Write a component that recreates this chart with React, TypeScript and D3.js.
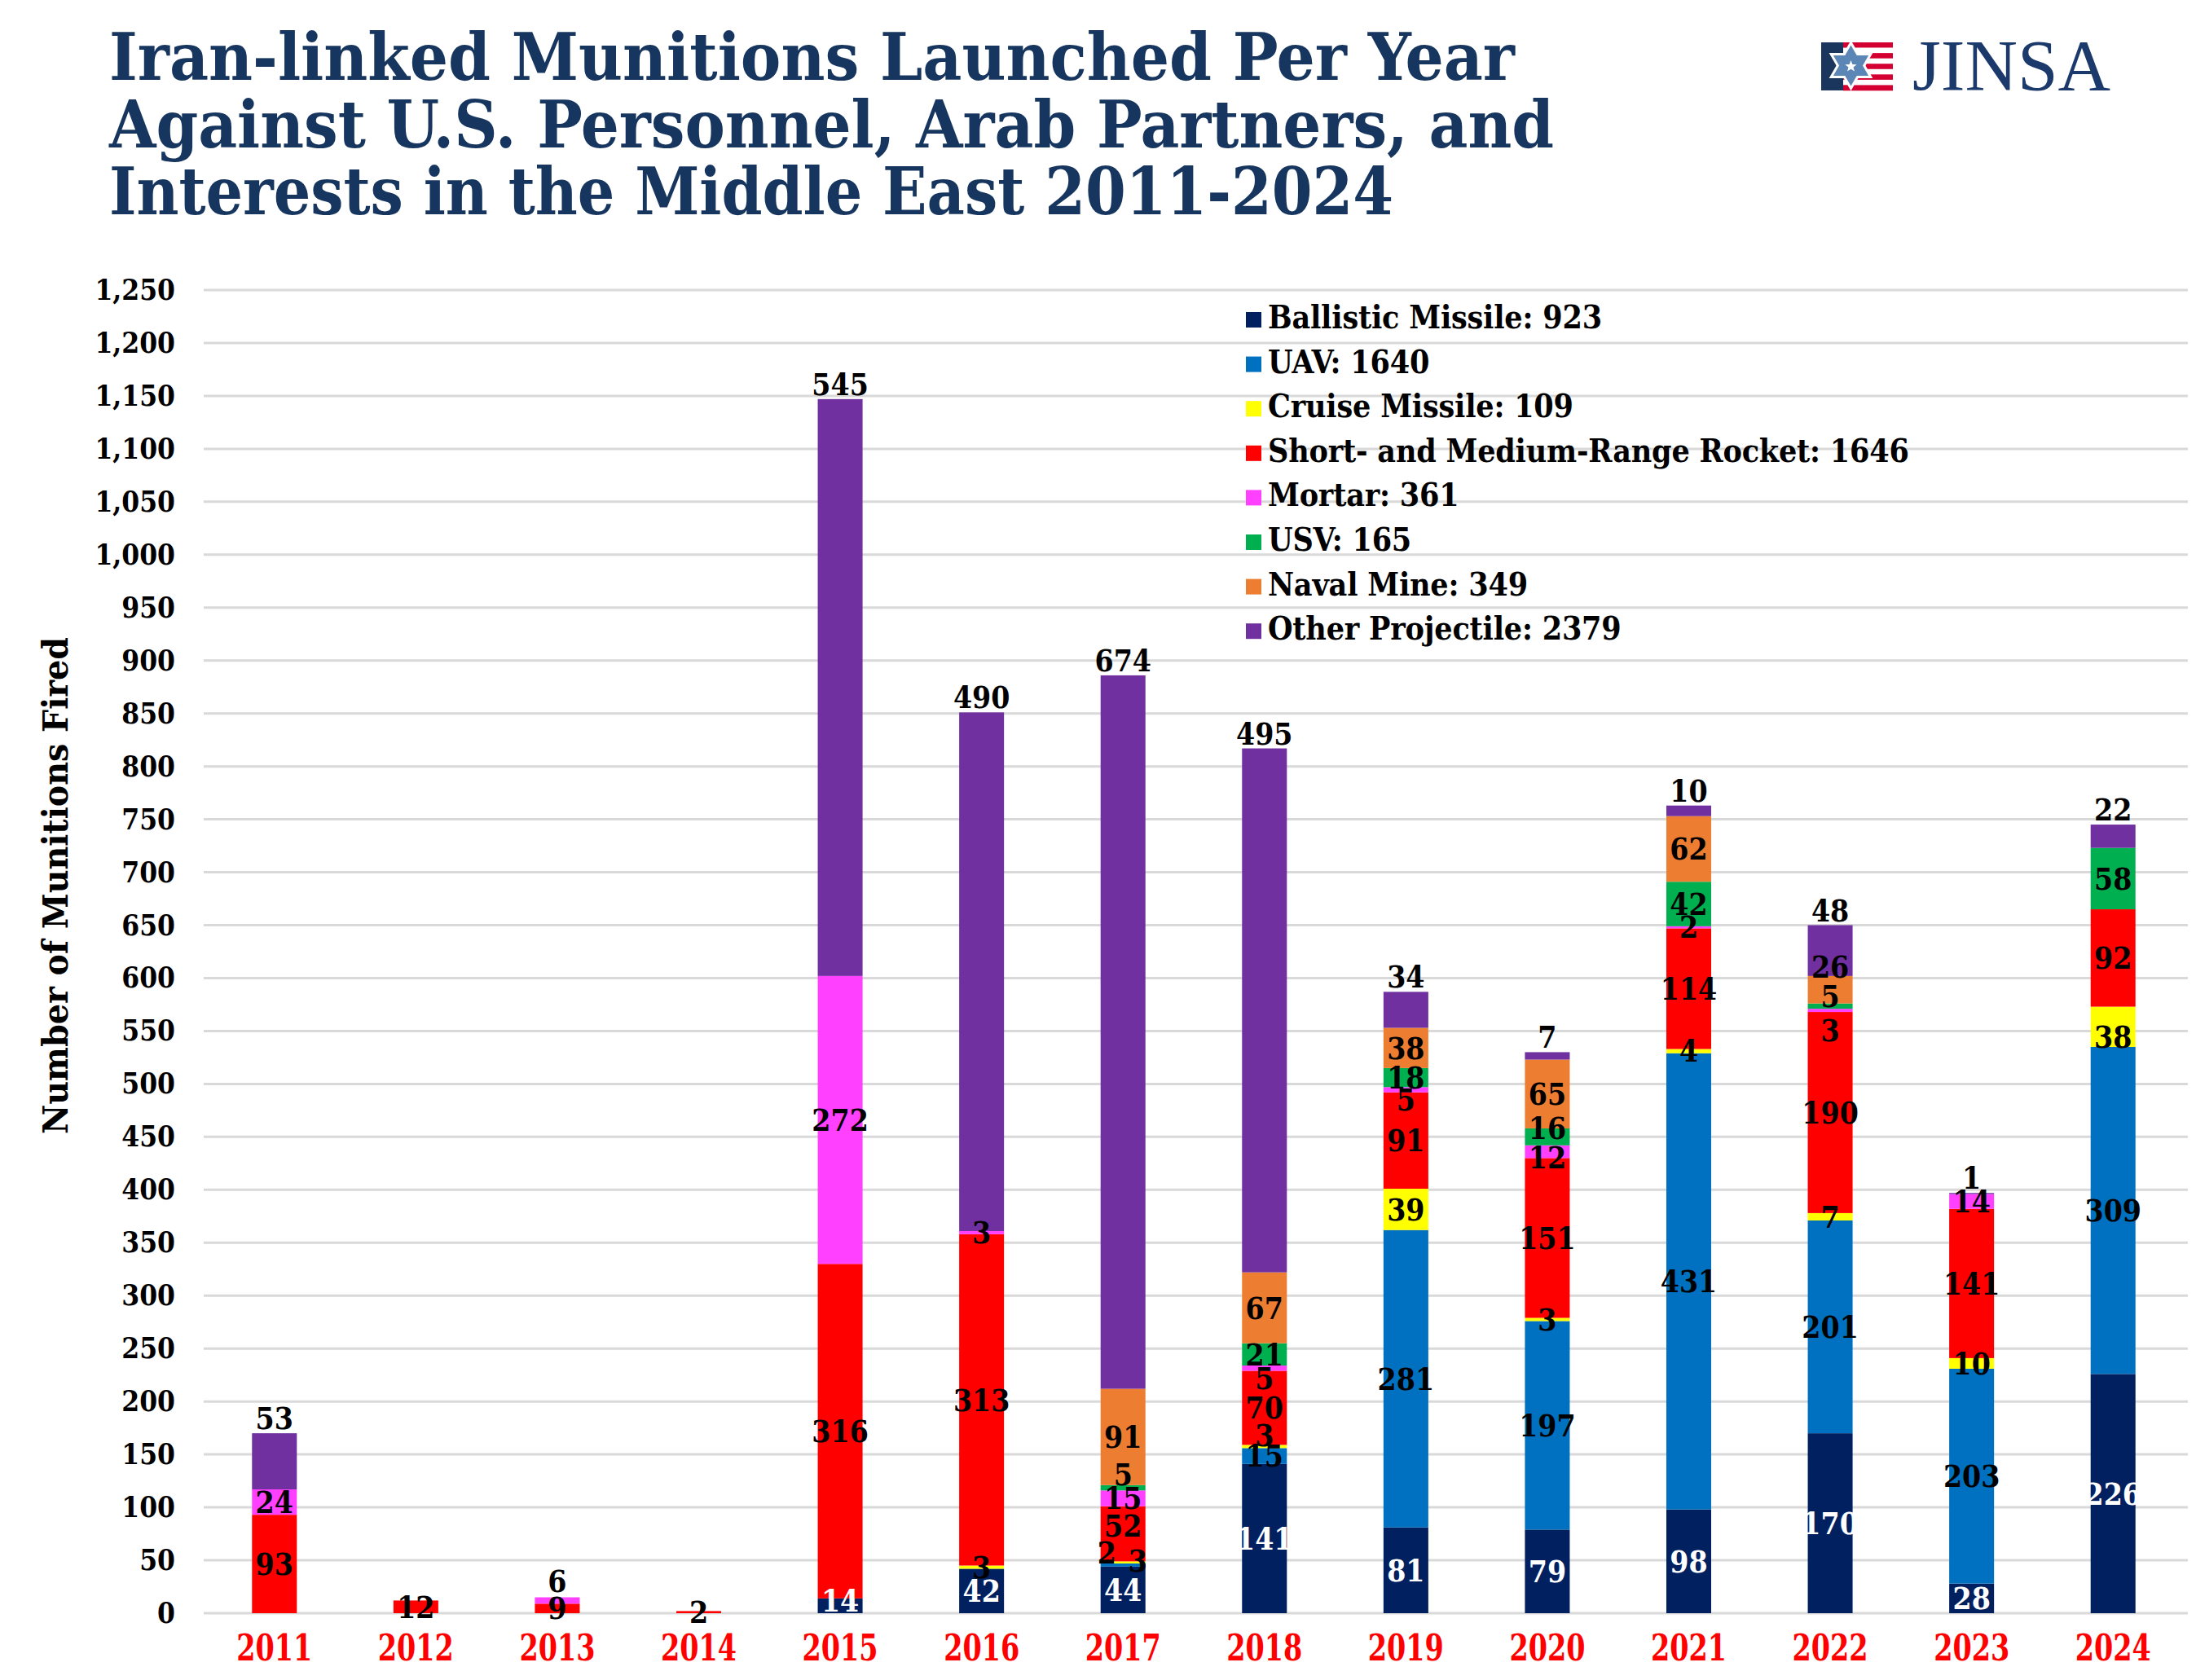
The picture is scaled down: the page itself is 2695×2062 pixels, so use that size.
import React from 'react';
import * as d3 from 'd3';

const years = ['2011','2012','2013','2014','2015','2016','2017','2018','2019','2020','2021','2022','2023','2024'];
const ballistic = [0,0,0,0,14,42,44,141,81,79,98,170,28,226];
const uav = [0,0,0,0,0,0,3,15,281,197,431,201,203,309];
const cruise = [0,0,0,0,0,3,2,3,39,3,4,7,10,38];
const rocket = [93,12,9,2,316,313,52,70,91,151,114,190,141,92];
const mortar = [24,0,6,0,272,3,15,5,5,12,2,3,14,0];
const usv = [0,0,0,0,0,0,5,21,18,16,42,5,0,58];
const mine = [0,0,0,0,0,0,91,67,38,65,62,26,0,0];
const other = [53,0,0,0,545,490,674,495,34,7,10,48,1,22];

const seriesKeys = ['ballistic','uav','cruise','rocket','mortar','usv','mine','other'];
const seriesLabels = ['Ballistic Missile','UAV','Cruise Missile','Short- and Medium-Range Rocket','Mortar','USV','Naval Mine','Other Projectile'];
const seriesColors = ['#002060','#0070C0','#FFFF00','#FF0000','#FF40FF','#00B050','#ED7D31','#7030A0'];
const seriesValues = [ballistic, uav, cruise, rocket, mortar, usv, mine, other];

const titleLines = [
  'Iran-linked Munitions Launched Per Year',
  'Against U.S. Personnel, Arab Partners, and',
  'Interests in the Middle East 2011-2024',
];
const yAxisTitle = 'Number of Munitions Fired';
const yTicks = d3.range(0, 1251, 50);

// label nudges (layout only)
const labelNudge: Record<string, { dx?: number; dy?: number }> = {
  '2013|mortar': { dy: -24 },
  '2015|ballistic': { dy: -6 },
  '2017|cruise': { dx: -20, dy: -12 },
  '2017|uav': { dx: 18, dy: -5 },
  '2017|rocket': { dy: -10 },
  '2017|usv': { dy: -16 },
  '2018|cruise': { dy: -14 },
  '2018|mortar': { dy: 12 },
  '2019|mortar': { dy: 12 },
  '2020|mortar': { dy: 7 },
  '2020|usv': { dy: -11 },
  '2022|mortar': { dy: 25 },
  '2022|usv': { dy: -12 },
  '2022|mine': { dy: -28 },
  '2024|cruise': { dy: 12 },
};

const W = 2695, H = 2062;
const FONT = "'DejaVu Serif Condensed', 'DejaVu Serif', serif";

export default function App() {
  const rows = years.map((y, i) => {
    const r: any = { year: y };
    seriesKeys.forEach((k, j) => (r[k] = seriesValues[j][i]));
    return r;
  });
  const stacked = d3.stack().keys(seriesKeys)(rows);

  const x = d3.scaleBand().domain(years).range([250, 2680]).paddingInner(0.683).paddingOuter(0.3415);
  const y = d3.scaleLinear().domain([0, 1250]).range([1980, 356]);

  const labelFs = 37;

  // hexagram
  const hx = 2271.5, hy = 80.5, hr = 25;
  const tri = (r: number, rot: number) =>
    d3.range(3).map((k) => {
      const a = rot + (k * 2 * Math.PI) / 3;
      return [hx + r * Math.sin(a), hy - r * Math.cos(a)];
    });
  const triPath = (r: number, rot: number) => 'M' + tri(r, rot).map((p) => p.join(',')).join('L') + 'Z';
  const star5 = d3.range(10).map((k) => {
    const rr = k % 2 === 0 ? 7.5 : 3.2;
    const a = (k * Math.PI) / 5;
    return [hx + rr * Math.sin(a), hy + 1 - rr * Math.cos(a)];
  });
  const stripeH = 59 / 9;

  return (
    <svg width={W} height={H} style={{ position: 'absolute', left: 0, top: 0, background: '#fff' }} fontFamily={FONT}>
      <rect x={0} y={0} width={W} height={H} fill="#fff" />
      {/* Title */}
      {titleLines.map((t, i) => (
        <text key={i} x={134} y={98 + i * 82.5} fontSize={80} fontWeight="bold" fill="#17365F"
          style={{ fontStretch: 'condensed' }}
          textLength={[1725, 1773, 1576][i]} lengthAdjust="spacingAndGlyphs">{t}</text>
      ))}
      {/* Logo */}
      <g>
        <rect x={2235} y={52} width={33} height={59} fill="#1B365D" />
        {d3.range(9).map((k) => (
          <rect key={k} x={2262} y={52 + k * stripeH} width={61} height={stripeH + 0.3} fill={k % 2 === 0 ? '#D50032' : '#fff'} />
        ))}
        <path d={triPath(hr + 6, 0)} fill="#fff" />
        <path d={triPath(hr + 6, Math.PI)} fill="#fff" />
        <path d={triPath(hr, 0)} fill="#5B86B5" />
        <path d={triPath(hr, Math.PI)} fill="#5B86B5" />
        <polygon points={star5.map((p) => p.join(',')).join(' ')} fill="#fff" />
        <text x={2347} y={110} fontSize={88} fontFamily="'Liberation Serif', serif" fill="#1B3A6B"
          textLength={243} lengthAdjust="spacingAndGlyphs">JINSA</text>
      </g>
      {/* Gridlines */}
      {yTicks.map((t) => (
        <line key={t} x1={250} x2={2685} y1={y(t)} y2={y(t)} stroke="#D9D9D9" strokeWidth={3} />
      ))}
      {/* Y tick labels */}
      {yTicks.map((t) => (
        <text key={'yl' + t} x={215} y={y(t) + 12} fontSize={35} fontWeight="bold" textAnchor="end" fill="#000"
          style={{ fontStretch: 'condensed' }}>{d3.format(',')(t)}</text>
      ))}
      {/* Y axis title */}
      <text transform={`translate(83,1087) rotate(-90)`} fontSize={42} fontWeight="bold" textAnchor="middle" fill="#000"
        style={{ fontStretch: 'condensed' }} textLength={610} lengthAdjust="spacingAndGlyphs">{yAxisTitle}</text>
      {/* Bars */}
      {stacked.map((s, j) => (
        <g key={s.key} fill={seriesColors[j]}>
          {s.map((d, i) => {
            const h = y(d[0]) - y(d[1]);
            if (h <= 0) return null;
            return <rect key={i} x={x(years[i])} y={y(d[1])} width={x.bandwidth()} height={h} />;
          })}
        </g>
      ))}
      {/* Segment labels */}
      {stacked.map((s, j) =>
        s.map((d, i) => {
          const v = d[1] - d[0];
          if (v <= 0) return null;
          const key = s.key as string;
          const n = labelNudge[years[i] + '|' + key] || {};
          const cx = (x(years[i]) as number) + x.bandwidth() / 2 + (n.dx || 0);
          let baseY: number;
          if (key === 'other') {
            baseY = y(d[1]) - 5;
          } else {
            const cy = (y(d[0]) + y(d[1])) / 2 + (n.dy || 0);
            baseY = cy + 0.36 * labelFs;
          }
          return (
            <text key={key + i} x={cx} y={baseY} fontSize={labelFs} fontWeight="bold" textAnchor="middle"
              style={{ fontStretch: 'condensed' }}
              fill={key === 'ballistic' ? '#fff' : '#000'}>{v}</text>
          );
        })
      )}
      {/* X labels */}
      {years.map((yr) => (
        <text key={'x' + yr} x={(x(yr) as number) + x.bandwidth() / 2} y={2038} fontSize={45} fontWeight="bold"
          textAnchor="middle" fill="#FF0000" style={{ fontStretch: 'condensed' }}
          textLength={93} lengthAdjust="spacingAndGlyphs">{yr}</text>
      ))}
      {/* Legend */}
      {seriesKeys.map((k, j) => {
        const by = 403 + j * 54.6;
        const total = d3.sum(seriesValues[j]);
        return (
          <g key={'lg' + k}>
            <rect x={1529} y={by - 20} width={19} height={19} fill={seriesColors[j]} />
            <text x={1556} y={by} fontSize={39} letterSpacing={-0.2} fontWeight="bold" fill="#000" style={{ fontStretch: 'condensed' }}>
              {`${seriesLabels[j]}: ${total}`}
            </text>
          </g>
        );
      })}
    </svg>
  );
}
